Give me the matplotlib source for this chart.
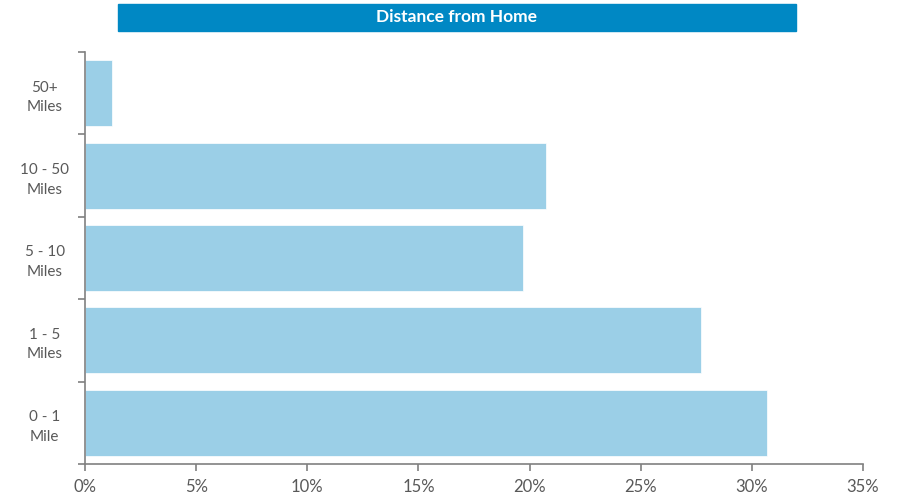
import matplotlib
matplotlib.use("Agg")
import matplotlib.pyplot as plt
from matplotlib.patches import Rectangle

#data, bottom to top
categories = ["0 - 1\nMile", "1 - 5\nMiles", "5 - 10\nMiles", "10 - 50\nMiles", "50+\nMiles"]
shares = [30.7, 27.7, 19.7, 20.75, 1.2]
x_ticks = [0, 5, 10, 15, 20, 25, 30, 35]
title = "Distance from Home"

TEXT = "#595959"
AXIS = "#808080"
BAR = "#9bcfe7"
BANNER = "#0088c4"

plt.rcParams["font.family"] = ["Lato", "DejaVu Sans"]

fig = plt.figure(figsize=(9.01, 4.99), dpi=100)
ax = fig.add_axes([85 / 901, 1 - 464 / 499, (863 - 85) / 901, (464 - 52) / 499])

pos = list(range(len(categories)))
ax.barh(pos, shares, height=0.8, color=BAR, edgecolor="white", linewidth=0.5)

ax.set_xlim(0, 35)
ax.set_ylim(-0.5, len(categories) - 0.5)
ax.set_xticks(x_ticks)
ax.set_xticklabels([f"{t}%" for t in x_ticks])

#category labels in the middle, ticks at the boundaries
ax.set_yticks(pos)
ax.set_yticklabels(categories, linespacing=1.5)
ax.set_yticks([p - 0.5 for p in pos] + [len(categories) - 0.5], minor=True)
ax.tick_params(axis="y", which="major", length=0, pad=29, labelsize=11, labelcolor=TEXT)
ax.tick_params(axis="y", which="minor", length=5, color=AXIS, width=1.2)
ax.tick_params(axis="x", length=5, color=AXIS, width=1.2, labelsize=12, labelcolor=TEXT, pad=6)
for lab in ax.get_yticklabels():
    lab.set_horizontalalignment("center")
    lab.set_y(lab.get_position()[1])

for s in ["top", "right"]:
    ax.spines[s].set_visible(False)
for s in ["left", "bottom"]:
    ax.spines[s].set_color(AXIS)
    ax.spines[s].set_linewidth(1.2)

#title banner
fig.patches.append(Rectangle((118 / 901, 1 - 31 / 499), (796 - 118) / 901, 27 / 499,
                             transform=fig.transFigure, color=BANNER, zorder=0))
fig.text((118 + 796) / 2 / 901, 1 - 17.5 / 499, title, color="white", fontsize=12.5,
         fontweight="bold", ha="center", va="center")

fig.savefig("out.png", dpi=100)
